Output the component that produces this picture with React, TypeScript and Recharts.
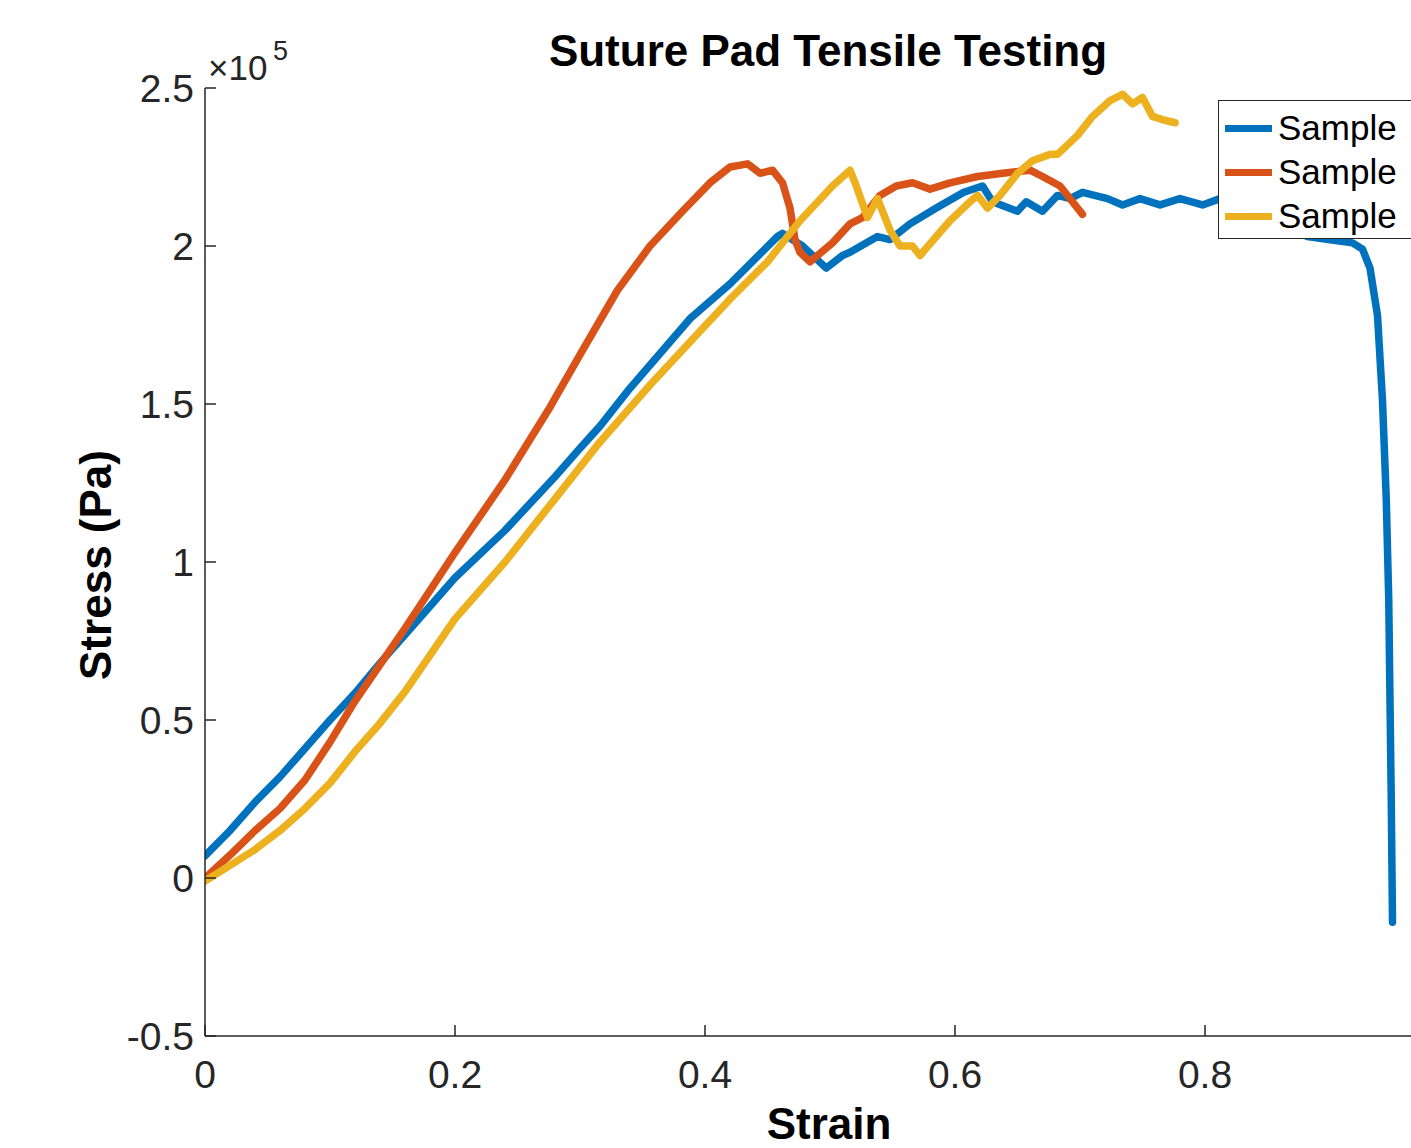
import React from 'react';
import { LineChart, Line, XAxis, YAxis, Customized } from 'recharts';

// strain vs stress (stress in units of 1e5 Pa)
const sample1 = [
  { x: 0, y: 0.07 }, { x: 0.02, y: 0.15 }, { x: 0.04, y: 0.24 }, { x: 0.06, y: 0.32 },
  { x: 0.08, y: 0.41 }, { x: 0.1, y: 0.5 }, { x: 0.12, y: 0.585 }, { x: 0.14, y: 0.68 },
  { x: 0.16, y: 0.77 }, { x: 0.2, y: 0.95 }, { x: 0.24, y: 1.1 }, { x: 0.28, y: 1.27 },
  { x: 0.3, y: 1.36 }, { x: 0.316, y: 1.43 }, { x: 0.34, y: 1.55 }, { x: 0.388, y: 1.77 },
  { x: 0.42, y: 1.88 }, { x: 0.458, y: 2.03 }, { x: 0.462, y: 2.04 }, { x: 0.478, y: 2.0 },
  { x: 0.497, y: 1.93 }, { x: 0.51, y: 1.97 }, { x: 0.516, y: 1.98 }, { x: 0.538, y: 2.03 },
  { x: 0.548, y: 2.02 }, { x: 0.564, y: 2.07 }, { x: 0.585, y: 2.12 }, { x: 0.607, y: 2.17 },
  { x: 0.622, y: 2.19 }, { x: 0.63, y: 2.14 }, { x: 0.65, y: 2.11 }, { x: 0.657, y: 2.14 },
  { x: 0.67, y: 2.11 }, { x: 0.682, y: 2.16 }, { x: 0.692, y: 2.15 }, { x: 0.702, y: 2.17 },
  { x: 0.722, y: 2.15 }, { x: 0.734, y: 2.13 }, { x: 0.748, y: 2.15 }, { x: 0.764, y: 2.13 },
  { x: 0.78, y: 2.15 }, { x: 0.798, y: 2.13 }, { x: 0.812, y: 2.15 }, { x: 0.84, y: 2.11 },
  { x: 0.86, y: 2.07 }, { x: 0.882, y: 2.03 }, { x: 0.9, y: 2.02 }, { x: 0.918, y: 2.01 },
  { x: 0.926, y: 1.99 }, { x: 0.932, y: 1.93 }, { x: 0.938, y: 1.78 }, { x: 0.942, y: 1.51 },
  { x: 0.945, y: 1.2 }, { x: 0.947, y: 0.88 }, { x: 0.948, y: 0.56 }, { x: 0.949, y: 0.25 },
  { x: 0.95, y: -0.14 },
];

const sample2 = [
  { x: 0, y: 0.0 }, { x: 0.022, y: 0.08 }, { x: 0.04, y: 0.15 }, { x: 0.06, y: 0.22 },
  { x: 0.08, y: 0.31 }, { x: 0.1, y: 0.43 }, { x: 0.12, y: 0.56 }, { x: 0.16, y: 0.79 },
  { x: 0.2, y: 1.03 }, { x: 0.24, y: 1.26 }, { x: 0.276, y: 1.49 }, { x: 0.302, y: 1.67 },
  { x: 0.33, y: 1.86 }, { x: 0.356, y: 2.0 }, { x: 0.382, y: 2.11 }, { x: 0.404, y: 2.2 },
  { x: 0.42, y: 2.25 }, { x: 0.434, y: 2.26 }, { x: 0.444, y: 2.23 }, { x: 0.454, y: 2.24 },
  { x: 0.462, y: 2.2 }, { x: 0.468, y: 2.12 }, { x: 0.472, y: 2.02 }, { x: 0.476, y: 1.98 },
  { x: 0.484, y: 1.95 }, { x: 0.502, y: 2.01 }, { x: 0.516, y: 2.07 }, { x: 0.526, y: 2.09 },
  { x: 0.54, y: 2.16 }, { x: 0.553, y: 2.19 }, { x: 0.566, y: 2.2 }, { x: 0.58, y: 2.18 },
  { x: 0.596, y: 2.2 }, { x: 0.618, y: 2.22 }, { x: 0.638, y: 2.23 }, { x: 0.66, y: 2.24 },
  { x: 0.67, y: 2.22 }, { x: 0.684, y: 2.19 }, { x: 0.702, y: 2.1 },
];

const sample3 = [
  { x: 0, y: -0.01 }, { x: 0.02, y: 0.04 }, { x: 0.04, y: 0.09 }, { x: 0.06, y: 0.15 },
  { x: 0.08, y: 0.22 }, { x: 0.1, y: 0.3 }, { x: 0.12, y: 0.4 }, { x: 0.14, y: 0.49 },
  { x: 0.16, y: 0.59 }, { x: 0.2, y: 0.82 }, { x: 0.24, y: 1.0 }, { x: 0.28, y: 1.2 },
  { x: 0.316, y: 1.38 }, { x: 0.356, y: 1.56 }, { x: 0.396, y: 1.73 }, { x: 0.422, y: 1.84 },
  { x: 0.45, y: 1.95 }, { x: 0.476, y: 2.08 }, { x: 0.502, y: 2.19 }, { x: 0.516, y: 2.24 },
  { x: 0.521, y: 2.19 }, { x: 0.53, y: 2.09 }, { x: 0.538, y: 2.15 }, { x: 0.548, y: 2.05 },
  { x: 0.556, y: 2.0 }, { x: 0.566, y: 2.0 }, { x: 0.572, y: 1.97 }, { x: 0.585, y: 2.03 },
  { x: 0.596, y: 2.08 }, { x: 0.612, y: 2.14 }, { x: 0.618, y: 2.16 }, { x: 0.626, y: 2.12 },
  { x: 0.636, y: 2.16 }, { x: 0.65, y: 2.23 }, { x: 0.662, y: 2.27 }, { x: 0.676, y: 2.29 },
  { x: 0.682, y: 2.29 }, { x: 0.698, y: 2.35 }, { x: 0.71, y: 2.41 }, { x: 0.724, y: 2.46 },
  { x: 0.734, y: 2.48 }, { x: 0.742, y: 2.45 }, { x: 0.75, y: 2.47 }, { x: 0.758, y: 2.41 },
  { x: 0.766, y: 2.4 }, { x: 0.776, y: 2.39 },
];

const xTicks = [0, 0.2, 0.4, 0.6, 0.8];
const yTicks = [-0.5, 0, 0.5, 1, 1.5, 2, 2.5];

const series = [
  { key: 's1', name: 'Sample', data: sample1, color: '#0072BD' },
  { key: 's2', name: 'Sample', data: sample2, color: '#D95319' },
  { key: 's3', name: 'Sample', data: sample3, color: '#EDB120' },
];

const FONT = '"Liberation Sans", Arial, Helvetica, sans-serif';
const AXIS = '#262626';

const XTick = (props: any) => {
  const { x, y, payload } = props;
  return (
    <g>
      <line x1={x} y1={y} x2={x} y2={y - 11} stroke={AXIS} strokeWidth={1.5} />
      <text x={x} y={y + 52} textAnchor="middle" fontSize={39} fill={AXIS} fontFamily={FONT}>
        {payload.value}
      </text>
    </g>
  );
};

const YTick = (props: any) => {
  const { x, y, payload } = props;
  return (
    <g>
      <line x1={x} y1={y} x2={x + 11} y2={y} stroke={AXIS} strokeWidth={1.5} />
      <text x={x - 11} y={y + 14} textAnchor="end" fontSize={39} fill={AXIS} fontFamily={FONT}>
        {payload.value}
      </text>
    </g>
  );
};

// legend box sits above the lines; its right side runs off the picture like in the original
const LegendBox = () => (
  <div
    style={{
      position: 'absolute',
      left: 1218,
      top: 100,
      width: 260,
      height: 139,
      boxSizing: 'border-box',
      border: `1.5px solid ${AXIS}`,
      background: '#fff',
      fontFamily: FONT,
      fontSize: 35,
      color: '#000',
      paddingTop: 5,
      zIndex: 2,
    }}
  >
    {series.map((s) => (
      <div key={s.key} style={{ display: 'flex', alignItems: 'center', height: 44 }}>
        <span
          style={{ display: 'inline-block', width: 47, height: 7, background: s.color, marginLeft: 6, marginRight: 6 }}
        />
        <span>{s.name}</span>
      </div>
    ))}
  </div>
);

const Texts = () => (
  <g fontFamily={FONT}>
    <text x={828} y={66} textAnchor="middle" fontSize={44} fontWeight="bold" fill="#000">
      Suture Pad Tensile Testing
    </text>
    <text x={829} y={1139} textAnchor="middle" fontSize={44} fontWeight="bold" fill="#000">
      Strain
    </text>
    <text
      transform="translate(111,565) rotate(-90)"
      textAnchor="middle"
      fontSize={44}
      fontWeight="bold"
      fill="#000"
    >
      Stress (Pa)
    </text>
    <text x={208} y={80} fontSize={35} fill={AXIS}>
      ×10
    </text>
    <text x={273} y={60} fontSize={27} fill={AXIS}>
      5
    </text>
  </g>
);

const App = () => {
  return (
    <div
      style={{
        position: 'absolute',
        left: 0,
        top: 0,
        width: 1411,
        height: 1148,
        overflow: 'hidden',
        background: '#fff',
      }}
    >
      <LineChart width={1500} height={1148} margin={{ top: 88, right: 45, left: 105, bottom: 52 }}>
        <XAxis
          type="number"
          dataKey="x"
          domain={[0, 1]}
          ticks={xTicks}
          height={60}
          tickSize={0}
          tickMargin={0}
          tickLine={false}
          axisLine={{ stroke: AXIS, strokeWidth: 1.5 }}
          tick={<XTick />}
          allowDataOverflow
        />
        <YAxis
          type="number"
          dataKey="y"
          domain={[-0.5, 2.5]}
          ticks={yTicks}
          width={100}
          tickSize={0}
          tickMargin={0}
          tickLine={false}
          axisLine={{ stroke: AXIS, strokeWidth: 1.5 }}
          tick={<YTick />}
          allowDataOverflow
        />
        {series.map((s) => (
          <Line
            key={s.key}
            data={s.data}
            dataKey="y"
            name={s.name}
            type="linear"
            stroke={s.color}
            strokeWidth={7.5}
            strokeLinejoin="round"
            strokeLinecap="round"
            dot={false}
            isAnimationActive={false}
          />
        ))}
        <Customized component={<Texts />} />
      </LineChart>
      <LegendBox />
    </div>
  );
};

export default App;
